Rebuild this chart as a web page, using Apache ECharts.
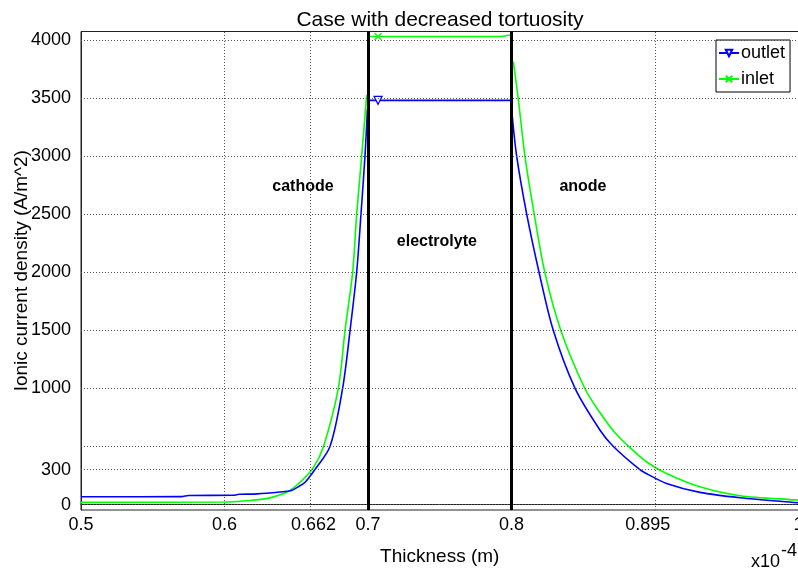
<!DOCTYPE html>
<html><head><meta charset="utf-8">
<script src="https://cdn.jsdelivr.net/npm/echarts@6/dist/echarts.min.js"></script>
<style>html,body{margin:0;padding:0;background:#fff}#c{width:798px;height:573px}</style>
</head><body><div id="c"></div>
<script>
// Thickness in units of 1e-4 m
const outletX = [0.5, 0.57, 0.575, 0.607, 0.61, 0.623, 0.639, 0.646, 0.651, 0.656, 0.662, 0.6735, 0.6823, 0.6875, 0.6921, 0.6951, 0.6979, 0.6996, 0.7, 0.707, 0.8, 0.8005, 0.8036, 0.8106, 0.8192, 0.8291, 0.8443, 0.8617, 0.871, 0.8895, 0.895, 0.908, 0.9313, 0.9592, 0.9987, 1.0];
const outletY = [67, 68, 78, 80, 88, 92, 108, 118, 150, 190, 285, 500, 1000, 1500, 2000, 2500, 3000, 3400, 3480, 3480, 3480, 3350, 3000, 2500, 2000, 1500, 1000, 640, 500, 300, 260, 182, 105, 59, 16, 15];
const inletX = [0.5, 0.6, 0.616, 0.63, 0.644, 0.653, 0.662, 0.669, 0.6793, 0.684, 0.6893, 0.6921, 0.6956, 0.6991, 0.7, 0.707, 0.793, 0.794, 0.8, 0.8013, 0.8048, 0.8094, 0.8159, 0.8233, 0.8345, 0.8512, 0.8617, 0.8721, 0.8826, 0.895, 0.908, 0.9313, 0.9592, 0.9987, 1.0];
const inletY = [19, 22, 33, 53, 110, 196, 320, 500, 1000, 1500, 2000, 2500, 3000, 3527, 4030, 4030, 4030, 4045, 4045, 3814, 3484, 2995, 2495, 1995, 1495, 997, 790, 618, 490, 360, 268, 153, 76, 39, 38];
const markerX = 0.707;

const xTickLabels = [0.5, 0.6, 0.662, 0.7, 0.8, 0.895, 1];
const xGridValues = [0.6, 0.662, 0.7, 0.8, 0.895, 0.9];
const yTickLabels = [0, 300, 1000, 1500, 2000, 2500, 3000, 3500, 4000];
const yGridValues = [0, 300, 500, 1000, 1500, 2000, 2500, 3000, 3500, 4000];
const boundaryX = [0.7, 0.8];
const regionNames = ['cathode', 'electrolyte', 'anode'];
const regionX = [0.6547, 0.748, 0.8498];
const regionY = [2734, 2260, 2734];

const FONT = '"Liberation Sans", Arial, sans-serif';
const chart = echarts.init(document.getElementById('c'), null, {renderer: 'canvas'});

function pts(xs, ys, test) {
  const out = [];
  xs.forEach((x, i) => {
    if (!test(x)) return;
    out.push(x === markerX ? {value: [x, ys[i]]} : {value: [x, ys[i]], symbol: 'none'});
  });
  return out;
}
const inCathode = x => x < boundaryX[0];
const inElectrolyte = x => x >= boundaryX[0] && x <= boundaryX[1];
const inAnode = x => x > boundaryX[1];

const outletStyle = {
  symbol: 'triangle', symbolRotate: 180, symbolSize: 8, showSymbol: true,
  lineStyle: {color: '#0000ff', width: 1.6},
  itemStyle: {color: '#ffffff', borderColor: '#0000ff', borderWidth: 1.2},
  emphasis: {disabled: true}, z: 3
};
const inletStyle = {
  symbol: 'path://M0,0L10,10M10,0L0,10', symbolSize: 7, showSymbol: true,
  lineStyle: {color: '#00ff00', width: 1.6},
  itemStyle: {color: '#00ff00', borderColor: '#00ff00', borderWidth: 1.2},
  emphasis: {disabled: true}, z: 2
};
function curveSeries(name, xs, ys, style) {
  return [
    Object.assign({name, type: 'line', smooth: 0.3, data: pts(xs, ys, inCathode)}, style),
    Object.assign({name, type: 'line', smooth: false, data: pts(xs, ys, inElectrolyte)}, style),
    Object.assign({name, type: 'line', smooth: 0.3, data: pts(xs, ys, inAnode)}, style)
  ];
}
const gridStyle = {color: '#555', width: 1, type: [1, 2]};

const option = {
  animation: false,
  backgroundColor: '#fff',
  title: {
    text: 'Case with decreased tortuosity', left: 435, top: 5, textAlign: 'center',
    textStyle: {fontFamily: FONT, fontSize: 21, fontWeight: 'normal', color: '#000'}
  },
  legend: {
    data: ['outlet', 'inlet'], orient: 'vertical', left: 716, top: 40,
    borderColor: '#000', borderWidth: 1, backgroundColor: '#fff',
    padding: [4, 5, 4, 2], itemGap: 8, itemWidth: 20, itemHeight: 8,
    textStyle: {fontFamily: FONT, fontSize: 18, color: '#000', padding: [0, 0, 0, -3]}
  },
  grid: {left: 81, top: 31.5, width: 717.5, height: 478.5, outerBoundsMode: 'none', containLabel: false,
         show: true, borderColor: '#222', borderWidth: 1, backgroundColor: 'transparent'},
  xAxis: {
    type: 'value', min: 0.5, max: 1.0,
    name: 'Thickness (m)', nameLocation: 'middle', nameGap: 37, nameMoveOverlap: false,
    nameTextStyle: {fontFamily: FONT, fontSize: 19, color: '#000'},
    axisLine: {lineStyle: {color: '#222'}}, axisTick: {show: false}, splitLine: {show: false},
    axisLabel: {customValues: xTickLabels, formatter: v => String(v), fontFamily: FONT, fontSize: 18, color: '#000', margin: 6}
  },
  yAxis: {
    type: 'value', min: -47, max: 4073,
    name: 'Ionic current density (A/m^2)', nameLocation: 'middle', nameGap: 50, nameMoveOverlap: false,
    nameTextStyle: {fontFamily: FONT, fontSize: 19, color: '#000'},
    axisLine: {show: true, lineStyle: {color: '#222'}}, axisTick: {show: false}, splitLine: {show: false},
    axisLabel: {customValues: yTickLabels, formatter: v => String(v), fontFamily: FONT, fontSize: 18, color: '#000', margin: 10}
  },
  graphic: [
    {type: 'text', left: 751, top: 553, style: {text: 'x10', font: '18px ' + FONT, fill: '#000'}},
    {type: 'text', left: 781, top: 542, style: {text: '-4', font: '18px ' + FONT, fill: '#000'}}
  ],
  series: [
    {
      name: 'grid', type: 'line', data: [], z: 1, silent: true,
      markLine: {
        silent: true, symbol: 'none', label: {show: false}, animation: false,
        lineStyle: gridStyle,
        data: xGridValues.map(v => ({xAxis: v})).concat(yGridValues.map(v => ({yAxis: v})))
      }
    },
    ...curveSeries('outlet', outletX, outletY, outletStyle),
    ...curveSeries('inlet', inletX, inletY, inletStyle),
    {
      name: 'boundary', type: 'line', data: [], z: 5, silent: true,
      markLine: {
        silent: true, symbol: 'none', label: {show: false}, animation: false,
        lineStyle: {color: '#000', width: 3, type: 'solid'},
        data: boundaryX.map(v => ({xAxis: v}))
      }
    },
    {
      name: 'regions', type: 'scatter', z: 6, symbolSize: 0, silent: true,
      itemStyle: {opacity: 1},
      data: regionNames.map((n, i) => ({value: [regionX[i], regionY[i]], name: n})),
      label: {show: true, position: 'inside', formatter: p => p.name, fontFamily: FONT, fontSize: 16, fontWeight: 'bold', color: '#000', opacity: 1}
    }
  ]
};
chart.setOption(option);
</script>
</body></html>
